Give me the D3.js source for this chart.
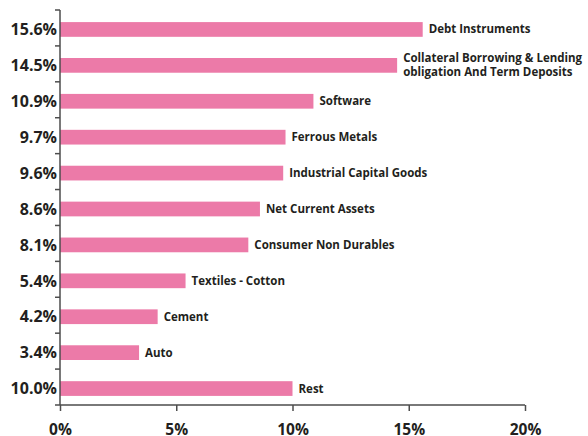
<!DOCTYPE html>
<html>
<head>
<meta charset="utf-8">
<script src="https://cdn.jsdelivr.net/npm/d3@7"></script>
<style>
	body { margin: 0; background: #fff; }
	text { font-family: "Open Sans", sans-serif; font-weight: bold; fill: #231f20; }
</style>
</head>
<body>
<svg id="chart" width="588" height="436"></svg>
<script>
const categories = [
	"Debt Instruments",
	"Collateral Borrowing & Lending|obligation And Term Deposits",
	"Software",
	"Ferrous Metals",
	"Industrial Capital Goods",
	"Net Current Assets",
	"Consumer Non Durables",
	"Textiles - Cotton",
	"Cement",
	"Auto",
	"Rest",
];
const values = [15.6, 14.5, 10.9, 9.7, 9.6, 8.6, 8.1, 5.4, 4.2, 3.4, 10.0];
const valueLabels = ["15.6%", "14.5%", "10.9%", "9.7%", "9.6%", "8.6%", "8.1%", "5.4%", "4.2%", "3.4%", "10.0%"];
const xTicks = [0, 5, 10, 15, 20];

const pink = "#ec7aa8",
	axisColor = "#4d4d4d";

const svg = d3.select("#chart");
const mLeft = 60,
	mRight = 525,
	mTop = 10,
	mBottom = 405;

const x = d3.scaleLinear().domain([0, 20]).range([mLeft, mRight]);
const y = d3
	.scaleBand()
	.domain(d3.range(categories.length))
	.range([mTop, mBottom])
	.paddingInner(0.59)
	.paddingOuter(0.295);

const data = categories.map((c, i) => ({ i, label: c, value: values[i], vLabel: valueLabels[i] }));

// bars
svg.append("g")
	.selectAll("rect")
	.data(data)
	.join("rect")
	.attr("x", x(0))
	.attr("y", (d) => y(d.i) + 1.5)
	.attr("width", (d) => x(d.value) - x(0))
	.attr("height", y.bandwidth())
	.attr("fill", pink);

// category labels
const cat = svg.append("g")
	.selectAll("text")
	.data(data)
	.join("text")
	.attr("x", (d) => x(d.value) + 6)
	.attr("y", (d) => y(d.i) + 1.5 + y.bandwidth() / 2)
	.attr("font-size", 11.5);
cat.each(function (d) {
	const lines = d.label.split("|");
	const t = d3.select(this);
	lines.forEach((l, k) => {
		t.append("tspan")
			.attr("x", x(d.value) + 6)
			.attr("dy", k === 0 ? (lines.length > 1 ? "-0.3em" : "0.35em") : "1.25em")
			.text(l);
	});
});

// y axis
const yStep = y.step();
const yBounds = d3.range(categories.length + 1).map((k) => mTop + k * yStep);
const gy = svg.append("g");
gy.append("line")
	.attr("x1", mLeft).attr("x2", mLeft)
	.attr("y1", mTop).attr("y2", mBottom)
	.attr("stroke", axisColor).attr("stroke-width", 1.5);
gy.selectAll(".tk")
	.data(yBounds)
	.join("line")
	.attr("x1", mLeft - 5).attr("x2", mLeft)
	.attr("y1", (d) => d).attr("y2", (d) => d)
	.attr("stroke", axisColor).attr("stroke-width", 1.5);
gy.selectAll("text")
	.data(data)
	.join("text")
	.attr("x", mLeft - 3)
	.attr("y", (d) => y(d.i) + 1.5 + y.bandwidth() / 2)
	.attr("dy", "0.36em")
	.attr("text-anchor", "end")
	.attr("font-size", 16)
	.text((d) => d.vLabel);

// x axis
const gx = svg.append("g").attr("transform", `translate(0,${mBottom})`);
gx.call(
	d3.axisBottom(x)
		.tickValues(xTicks)
		.tickSize(6)
		.tickFormat((d) => d + "%")
);
gx.select(".domain").attr("stroke", axisColor).attr("stroke-width", 1.5).attr("d", `M${mLeft},0H${mRight}`);
gx.selectAll(".tick line").attr("stroke", axisColor).attr("stroke-width", 1.5);
gx.selectAll(".tick text")
	.attr("font-size", 15.5)
	.attr("font-family", "Open Sans, sans-serif")
	.attr("fill", "#231f20")
	.attr("y", 19);
</script>
</body>
</html>
